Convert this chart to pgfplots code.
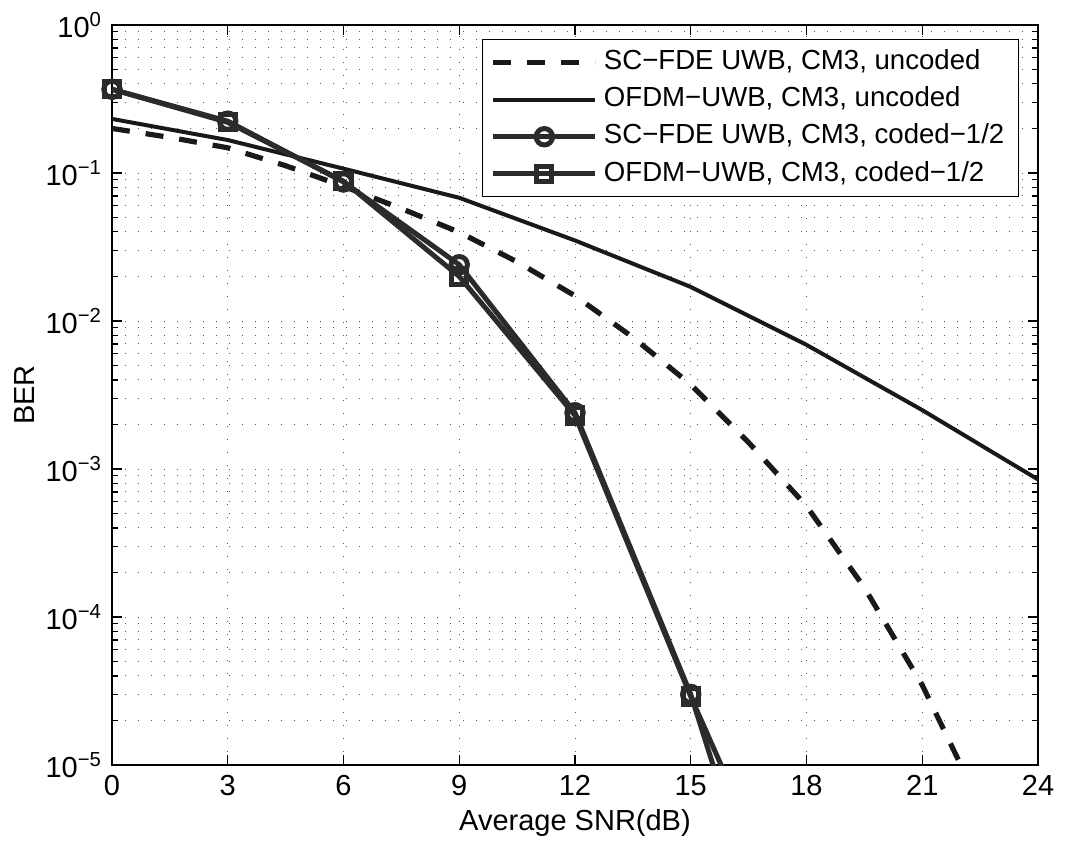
\documentclass[border=0pt]{standalone}
\usepackage{fontspec}
\setmainfont{Liberation Sans}
\usepackage{pgfplots}
\pgfplotsset{compat=1.18}
\definecolor{coded}{rgb}{0.17,0.17,0.17}
\definecolor{unc}{rgb}{0.1,0.1,0.1}
\begin{document}
\fontsize{14.5}{16}\selectfont
\begin{tikzpicture}
\useasboundingbox (-56pt,-38pt) rectangle (484.5pt,382.5pt);
\begin{axis}[
  at={(0,0)}, anchor=south west,
  scale only axis, width=463pt, height=370pt,
  xmin=0, xmax=24, ymode=log, ymin=1e-5, ymax=1,
  xtick={0,3,...,24},
  /pgf/number format/assume math mode=true,
  ytick={1e-5,1e-4,1e-3,1e-2,1e-1,1},
  yticklabels={10\textsuperscript{−5},10\textsuperscript{−4},10\textsuperscript{−3},10\textsuperscript{−2},10\textsuperscript{−1},10\textsuperscript{0}},
  tick label style={font=\fontsize{14.5}{16}\selectfont},
  label style={font=\fontsize{14.5}{16}\selectfont},
  xlabel={Average SNR(dB)},
  ylabel={BER},
  xlabel style={at={(axis description cs:0.5,-0.0784)}, anchor=center},
  ylabel style={at={(axis description cs:-0.094,0.5)}, anchor=center},
  tick align=inside,
  major tick length=5pt, minor tick length=3pt,
  every tick/.style={black, line width=0.6pt},
  axis line style={line width=0.8pt},
  xmajorgrids, ymajorgrids, yminorgrids,
  major grid style={black!65, line width=0.5pt, dash pattern=on 0.6pt off 5.9pt},
  minor grid style={black!65, line width=0.5pt, dash pattern=on 0.6pt off 5.9pt},
  legend cell align=left,
  legend style={at={(0.9795,0.981)}, anchor=north east, draw=black, line width=0.7pt,
    font=\fontsize{13.8}{16}\selectfont, row sep=0pt, inner xsep=4pt, inner ysep=2pt,
    nodes={text height=10pt, text depth=2.8pt, inner ysep=2.9pt, inner xsep=3pt}},
  legend image code/.code={\draw[mark repeat=2,mark phase=2,#1] plot coordinates {(0pt,0pt) (25.5pt,0pt) (51pt,0pt)};},
]
\addplot[unc, line width=2.6pt, dash pattern=on 9pt off 8pt] coordinates {
 (0,0.200) (1.5,0.174) (3,0.148) (4.5,0.112) (6,0.0813) (7.5,0.0575) (9,0.0398)
 (10.5,0.0251) (12,0.0148) (13.5,0.00776) (15,0.00372) (16.5,0.00151) (18,5.62e-4)
 (19.5,1.58e-4) (21,3.47e-5) (22,1.0e-5) (22.5,5.0e-6)};
\addlegendentry{SC−FDE UWB, CM3, uncoded}
\addplot[unc, line width=2pt] coordinates {
 (0,0.232) (3,0.167) (6,0.107) (9,0.068) (12,0.035) (15,0.017) (18,0.0069) (21,0.0025) (24,8.5e-4)};
\addlegendentry{OFDM−UWB, CM3, uncoded}
\addplot[coded, line width=2.5pt, mark=o, mark size=4.1pt, mark options={solid, fill=none}] coordinates {
 (0,0.368) (3,0.224) (6,0.087) (9,0.024) (12,0.0024) (15,3.0e-5) (18,1e-7)};
\addlegendentry{SC−FDE UWB, CM3, coded−1/2}
\addplot[coded, line width=2.5pt, mark=square, mark size=3.8pt, mark options={solid, fill=black!45}] coordinates {
 (0,0.368) (3,0.220) (6,0.088) (9,0.020) (12,0.0023) (15,2.9e-5) (18,5e-7)};
\addlegendentry{OFDM−UWB, CM3, coded−1/2}
\end{axis}
\end{tikzpicture}
\end{document}
